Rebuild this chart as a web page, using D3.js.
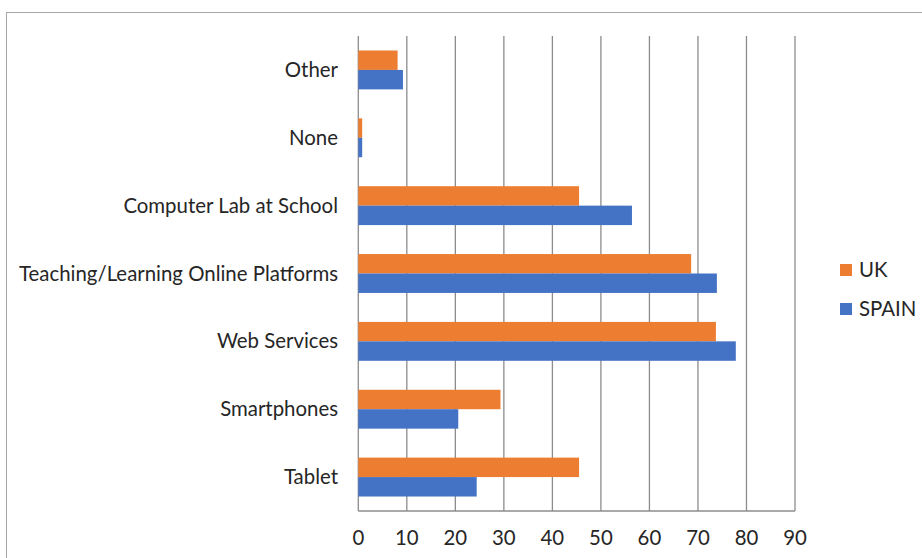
<!DOCTYPE html>
<html><head><meta charset="utf-8">
<script src="https://cdn.jsdelivr.net/npm/d3@7"></script>
<style>body{margin:0;background:#fff}svg{display:block}</style>
</head><body>
<svg id="c" width="922" height="558"></svg>
<script>
const categories = ["Tablet","Smartphones","Web Services","Teaching/Learning Online Platforms","Computer Lab at School","None","Other"];
const series = ["UK","SPAIN"];
const ukValues = [45.5,29.3,73.7,68.6,45.5,0.8,8.1];
const spainValues = [24.4,20.6,77.8,73.9,56.4,0.8,9.2];
const xTicks = [0,10,20,30,40,50,60,70,80,90];
const colors = {UK:"#ED7D31", SPAIN:"#4472C4"};

(function(){
const svg = d3.select("#c");
const font = "Lato, 'Open Sans', sans-serif";
const fs = 20.4;
svg.append("rect").attr("x",6.5).attr("y",12.5).attr("width",930).attr("height",560)
  .attr("fill","none").attr("stroke","#a6a6a6");

const pL=358.3, pR=795, pT=36, pB=511;
const x = d3.scaleLinear().domain([0,90]).range([pL,pR]);
const y = d3.scaleBand().domain(categories.slice().reverse()).range([pT,pB]).paddingInner(0.427).paddingOuter(0.2135);
const yS = d3.scaleBand().domain(series).range([0,y.bandwidth()]);

svg.append("g").selectAll("line").data(xTicks).join("line")
  .attr("x1",d=>x(d)).attr("x2",d=>x(d)).attr("y1",pT).attr("y2",pB)
  .attr("stroke","#8c8c8c").attr("stroke-width",1.3);
svg.append("line").attr("x1",pL).attr("x2",pR).attr("y1",pB).attr("y2",pB)
  .attr("stroke","#8c8c8c").attr("stroke-width",1.3);

const rows = categories.map((c,i)=>({c, UK:ukValues[i], SPAIN:spainValues[i]}));
const g = svg.append("g");
rows.forEach(r=>{
  series.forEach(s=>{
    g.append("rect").attr("x",x(0)).attr("y",y(r.c)+yS(s))
      .attr("width",x(r[s])-x(0)).attr("height",yS.bandwidth())
      .attr("fill",colors[s]);
  });
});

svg.append("g").selectAll("text").data(categories).join("text")
  .attr("x",338).attr("y",d=>y(d)+y.bandwidth()/2).attr("dy","0.35em")
  .attr("text-anchor","end").attr("font-family",font).attr("font-size",fs).attr("fill","#262626")
  .text(d=>d);
svg.append("g").selectAll("text").data(xTicks).join("text")
  .attr("x",d=>x(d)).attr("y",538).attr("dy","0.35em")
  .attr("text-anchor","middle").attr("font-family",font).attr("font-size",fs).attr("fill","#262626")
  .text(d=>d);

const lg = svg.append("g");
series.forEach((s,i)=>{
  lg.append("rect").attr("x",840).attr("y",264+i*39).attr("width",12).attr("height",12).attr("fill",colors[s]);
  lg.append("text").attr("x",859).attr("y",270+i*39).attr("dy","0.35em")
    .attr("font-family",font).attr("font-size",fs).attr("fill","#262626").text(s);
});
})();
</script>
</body></html>
